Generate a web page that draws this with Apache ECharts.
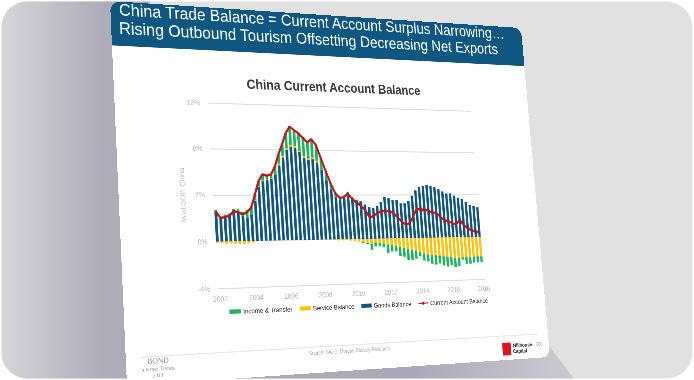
<!DOCTYPE html>
<html><head><meta charset="utf-8">
<script src="https://cdn.jsdelivr.net/npm/echarts@6/dist/echarts.min.js"></script>
<style>
html,body{margin:0;padding:0;width:694px;height:380px;overflow:hidden;background:#fff;}
#bg{position:absolute;left:0;top:0;}
#slide{position:absolute;left:0;top:0;width:960px;height:720px;transform-origin:0 0;background:#fff;border-radius:20px;overflow:hidden;}
#chart{width:960px;height:720px;}
</style></head><body>
<svg id="bg" width="694" height="380">
 <defs>
  <linearGradient id="sh" x1="0" y1="0" x2="694" y2="0" gradientUnits="userSpaceOnUse">
   <stop offset="0" stop-color="#d6d6d9"/>
   <stop offset="0.15" stop-color="#aeacb9"/>
   <stop offset="0.6" stop-color="#aba9b7"/>
   <stop offset="0.8" stop-color="#c8c7cf"/>
  </linearGradient>
  <clipPath id="fr"><rect x="1.5" y="1.5" width="691" height="377" rx="26"/></clipPath>
 </defs>
 <rect x="1.5" y="1.5" width="691" height="377" rx="26" fill="#e1e1e1" stroke="#f2f2f2"/>
 <polygon clip-path="url(#fr)" points="0,0 150,0 150,330 548,345 575,380 0,380" fill="url(#sh)"/>
</svg>
<div id="slide"><div id="chart"></div></div>
<script>
// ---------- data ----------
const categories = [
 '2002Q1','2002Q2','2002Q3','2002Q4','2003Q1','2003Q2','2003Q3','2003Q4',
 '2004Q1','2004Q2','2004Q3','2004Q4','2005Q1','2005Q2','2005Q3','2005Q4',
 '2006Q1','2006Q2','2006Q3','2006Q4','2007Q1','2007Q2','2007Q3','2007Q4',
 '2008Q1','2008Q2','2008Q3','2008Q4','2009Q1','2009Q2','2009Q3','2009Q4',
 '2010Q1','2010Q2','2010Q3','2010Q4','2011Q1','2011Q2','2011Q3','2011Q4',
 '2012Q1','2012Q2','2012Q3','2012Q4','2013Q1','2013Q2','2013Q3','2013Q4',
 '2014Q1','2014Q2','2014Q3','2014Q4','2015Q1','2015Q2','2015Q3','2015Q4',
 '2016Q1','2016Q2','2016Q3','2016Q4','2017Q1','2017Q2','2017Q3','2017Q4',
 '2018Q1'];
const goodsBalance = [
 2.5,2.1,2.2,2.3,2.5,2.5,2.2,2.0, 2.3,3.5,4.7,5.2,5.3,5.4,5.8,6.6,
 7.3,8.0,8.3,8.2,7.8,7.3,7.1,7.2, 6.9,6.2,5.3,4.5,3.8,3.6,3.7,3.9,
 3.7,3.5,3.4,3.1,2.9,2.8,3.0,3.3, 3.8,3.7,3.5,3.5,3.2,3.2,3.4,3.9,
 4.4,4.7,4.8,4.9,4.8,4.7,4.5,4.3, 4.1,4.1,3.9,3.7,3.6,3.3,3.0,2.9,
 2.8];
const serviceBalance = [
 -0.1,-0.15,-0.2,-0.2,-0.2,-0.25,-0.25,-0.2, -0.15,0.05,0.05,0.05,0.05,0.05,0.05,0.15,
 0.15,0.15,0.15,0.15,0.15,0.15,0.15,0.15, 0.15,0.05,0,-0.05,-0.1,-0.1,-0.1,-0.15,
 -0.2,-0.25,-0.3,-0.35,-0.45,-0.35,-0.4,-0.45, -0.55,-0.6,-0.7,-0.8,-0.9,-1.0,-1.1,-1.2,
 -1.3,-1.45,-1.55,-1.6,-1.65,-1.7,-1.75,-1.8, -1.85,-1.9,-1.95,-1.9,-1.9,-1.9,-1.85,-1.85,
 -1.85];
const incomeTransfer = [
 0.2,0.05,0.1,0.1,0.3,0.25,0.35,0.7, 0.75,0.6,0.45,0.55,0.35,0.35,0.65,0.85,
 1.05,1.35,1.65,1.45,1.55,1.65,1.45,1.65, 1.45,1.05,0.8,0.55,0.4,0.2,0.2,0.35,
 0.1,0.05,-0.1,-0.15,-0.55,-0.35,-0.3,-0.35, -0.75,-0.6,-0.5,-0.8,-0.8,-1.0,-0.9,-0.7,
 -0.4,-0.65,-0.65,-0.8,-0.85,-0.7,-0.85,-0.9, -0.75,-0.9,-0.75,-0.2,-0.6,-0.6,-0.55,-0.55,
 -0.55];
const currentAccount = [
 2.6,2.0,2.1,2.2,2.6,2.5,2.3,2.5, 2.9,4.0,5.2,5.8,5.7,5.8,6.5,7.6,
 8.5,9.5,10.1,9.8,9.5,9.1,8.7,9.0, 8.5,7.3,6.1,5.0,4.1,3.7,3.8,4.1,
 3.6,3.3,3.0,2.6,1.9,2.1,2.3,2.5, 2.5,2.5,2.3,1.9,1.5,1.2,1.4,2.0,
 2.7,2.6,2.6,2.5,2.3,2.3,1.9,1.6, 1.5,1.3,1.2,1.6,1.1,0.8,0.6,0.5,
 0.4];
const yTicks = {min:-4, max:12, interval:4};
const headerLines = ['China Trade Balance = Current Account Surplus Narrowing\u2026',
                     'Rising Outbound Tourism Offsetting Decreasing Net Exports'];

// ---------- perspective (slide drawn flat, then projected) ----------
const W = 960, H = 720;
const slideCorners = [[110,1],[521,28],[550,357],[127,386]];
function solveH(src, dst){
  const A=[];
  for(let i=0;i<4;i++){
    const [x,y]=src[i],[u,v]=dst[i];
    A.push([x,y,1,0,0,0,-u*x,-u*y,u]);
    A.push([0,0,0,x,y,1,-v*x,-v*y,v]);
  }
  for(let c=0;c<8;c++){
    let p=c; for(let r=c+1;r<8;r++) if(Math.abs(A[r][c])>Math.abs(A[p][c])) p=r;
    [A[c],A[p]]=[A[p],A[c]];
    for(let r=0;r<8;r++){ if(r===c) continue; const f=A[r][c]/A[c][c];
      for(let k=c;k<9;k++) A[r][k]-=f*A[c][k]; }
  }
  return A.map((row,i)=>row[8]/row[i]);
}
const flatRect=[[0,0],[W,0],[W,H],[0,H]];
const M = solveH(flatRect, slideCorners);
const Mi = solveH(slideCorners, flatRect);
function app(m,[x,y]){const w=m[6]*x+m[7]*y+1;return [(m[0]*x+m[1]*y+m[2])/w,(m[3]*x+m[4]*y+m[5])/w];}
const inv = p => app(Mi,p);
document.getElementById('slide').style.transform =
  `matrix3d(${M[0]},${M[3]},0,${M[6]},${M[1]},${M[4]},0,${M[7]},0,0,1,0,${M[2]},${M[5]},0,1)`;

// layout anchors (screen positions in the reference) -> flat slide coords
const gTL=inv([206.7,100.7]), gTR=inv([473.3,113.3]), gBR=inv([483.3,282.7]), gBL=inv([218.3,285]);
const grid = {
  left:(gTL[0]+gBL[0])/2, right:W-(gTR[0]+gBR[0])/2,
  top:(gTL[1]+gTR[1])/2, bottom:H-(gBL[1]+gBR[1])/2
};
const headerH = (inv([112,42])[1]+inv([523,69])[1])/2;
const h1 = inv([119,10]), h2 = inv([119,28.5]);
const tC = inv([334,86]);
const lg = inv([227,309.5]);
const foot = inv([333,346]);
const src = inv([350,351]);
const logoA = inv([502,343]), logoB = inv([511.5,355]);
const hh = inv([513,345.5]), cap = inv([513,351.5]), pg = inv([536,344]);
const bond = inv([158,361]), bond2 = inv([158,368.5]), bond3 = inv([158,375]);

const chart = echarts.init(document.getElementById('chart'), null, {renderer:'svg'});
const FONT = '"Liberation Sans", Arial, Helvetica, sans-serif';
chart.setOption({
  animation:false,
  backgroundColor:'#ffffff',
  textStyle:{fontFamily:FONT},
  title:{text:'China Current Account Balance', left:tC[0], top:tC[1]-16, textAlign:'center',
    textStyle:{fontSize:27, fontWeight:'bold', color:'#3a3a3a', fontFamily:FONT}},
  grid:{left:grid.left, right:grid.right, top:grid.top, bottom:grid.bottom, containLabel:false},
  legend:{left:lg[0], top:lg[1]-7, itemWidth:24, itemHeight:8, itemGap:16,
    textStyle:{fontSize:13, color:'#222'},
    data:[{name:'Income & Transfer', icon:'rect'},{name:'Service Balance', icon:'rect'},
          {name:'Goods Balance', icon:'rect'},{name:'Current Account Balance'}]},
  xAxis:{type:'category', data:categories, boundaryGap:true,
    axisLine:{show:false, onZero:false}, axisTick:{show:false},
    axisLabel:{interval:7, formatter:v=>v.slice(0,4), color:'#b5b5b5', fontSize:14, margin:12},
    splitLine:{show:false}},
  yAxis:{type:'value', min:yTicks.min, max:yTicks.max, interval:yTicks.interval,
    axisLabel:{formatter:'{value}%', color:'#b5b5b5', fontSize:14, margin:16},
    splitLine:{lineStyle:{color:'#dcdcdc', width:2}},
    name:'% of GDP, China', nameLocation:'middle', nameGap:52, nameRotate:90,
    nameTextStyle:{color:'#b5b5b5', fontSize:14}},
  series:[
    {name:'Goods Balance', type:'bar', stack:'ca', data:goodsBalance, barCategoryGap:'38%',
      itemStyle:{color:'#12567d'}},
    {name:'Service Balance', type:'bar', stack:'ca', data:serviceBalance,
      itemStyle:{color:'#fcc30a'}},
    {name:'Income & Transfer', type:'bar', stack:'ca', data:incomeTransfer,
      itemStyle:{color:'#1db35c'}},
    {name:'Current Account Balance', type:'line', data:currentAccount, symbol:'none',
      lineStyle:{color:'#c0141b', width:4.5}, itemStyle:{color:'#c0141b'}, z:5}
  ],
  graphic:[
    {type:'rect', shape:{x:0,y:0,width:W,height:headerH}, style:{fill:'#0f5780'}, z:-1},
    {type:'text', x:h1[0], y:h1[1], style:{text:headerLines[0], fill:'#fff', fontSize:33,
      fontFamily:FONT, verticalAlign:'middle'}},
    {type:'text', x:h2[0], y:h2[1], style:{text:headerLines[1], fill:'#fff', fontSize:33,
      fontFamily:FONT, verticalAlign:'middle'}},
    {type:'line', shape:{x1:30,y1:foot[1],x2:W-30,y2:foot[1]}, style:{stroke:'#e6e6e6', lineWidth:2}},
    {type:'text', x:src[0], y:src[1], style:{text:'Source: SAFE, Morgan Stanley Research', fill:'#a8a8a8',
      fontSize:10, fontFamily:FONT, align:'center', verticalAlign:'middle'}},
    {type:'rect', shape:{x:logoA[0], y:logoA[1], width:logoB[0]-logoA[0], height:logoB[1]-logoA[1]},
      style:{fill:'#e0141e'}},
    {type:'text', x:hh[0], y:hh[1], style:{text:'Hillhouse', fill:'#222', fontSize:11, fontWeight:'bold',
      fontFamily:FONT, verticalAlign:'middle'}},
    {type:'text', x:cap[0], y:cap[1], style:{text:'Capital', fill:'#222', fontSize:11, fontWeight:'bold',
      fontFamily:FONT, verticalAlign:'middle'}},
    {type:'text', x:pg[0], y:pg[1], style:{text:'300', fill:'#b0b0b0', fontSize:10,
      fontFamily:FONT, verticalAlign:'middle'}},
    {type:'text', x:bond[0], y:bond[1], style:{text:'BOND', fill:'#8a8a8a', fontSize:15,
      fontFamily:'"Liberation Serif", serif', align:'center', verticalAlign:'middle'}},
    {type:'text', x:bond2[0], y:bond2[1], style:{text:'Internet Trends', fill:'#9a9a9a', fontSize:11,
      fontFamily:'"Liberation Serif", serif', align:'center', verticalAlign:'middle'}},
    {type:'text', x:bond3[0], y:bond3[1], style:{text:'2018', fill:'#9a9a9a', fontSize:10,
      fontFamily:'"Liberation Serif", serif', align:'center', verticalAlign:'middle'}}
  ]
});
</script>
</body></html>
